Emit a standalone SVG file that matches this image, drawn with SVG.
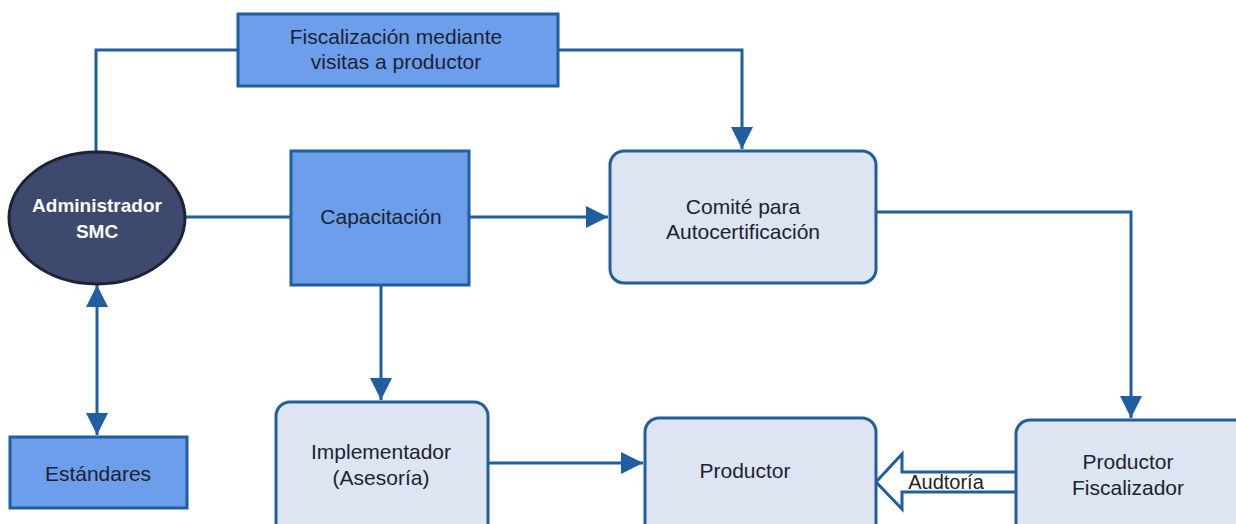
<svg xmlns="http://www.w3.org/2000/svg" width="1236" height="524" viewBox="0 0 1236 524">
<defs>
<marker id="ah" viewBox="0 0 10 10" refX="10" refY="5" markerWidth="22" markerHeight="22" markerUnits="userSpaceOnUse" orient="auto-start-reverse">
<path d="M0,0 L10,5 L0,10 z" fill="#1f5fa0"/>
</marker>
<style>
.blue{fill:#6d9eeb;stroke:#1f5fa0;stroke-width:3}
.light{fill:#dce5f1;stroke:#245d9a;stroke-width:3}
.ln{fill:none;stroke:#1f5fa0;stroke-width:3}
text{font-family:"Liberation Sans",Arial,sans-serif;font-size:21px;fill:#1c2330;text-anchor:middle}
.w{fill:#ffffff;font-weight:bold;font-size:19px}
</style>
</defs>
<rect width="1236" height="524" fill="#ffffff"/>
<g id="connectors">
<path class="ln" d="M96,152 V50 H238"/>
<path class="ln" d="M558,50 H742 V149" marker-end="url(#ah)"/>
<path class="ln" d="M185,217 H291"/>
<path class="ln" d="M469,217 H608" marker-end="url(#ah)"/>
<path class="ln" d="M876,212 H1131 V418" marker-end="url(#ah)"/>
<path class="ln" d="M381,285 V400" marker-end="url(#ah)"/>
<path class="ln" d="M488,463 H643" marker-end="url(#ah)"/>
<path class="ln" d="M97,285 V435" marker-start="url(#ah)" marker-end="url(#ah)"/>
<path d="M1016,472 H902 V454 L876,482 L902,509 V492 H1016" fill="#ffffff" stroke="#1f5fa0" stroke-width="3"/>
<text x="946" y="489" style="font-size:20px">Audtoría</text>
</g>
<g id="fiscalizacion">
<rect class="blue" x="238" y="14" width="320" height="72"/>
<text x="396" y="44">Fiscalización mediante</text>
<text x="396" y="69">visitas a productor</text>
</g>
<g id="administrador">
<ellipse cx="97" cy="218" rx="88" ry="66" fill="#3d4a6e" stroke="#1c2338" stroke-width="3"/>
<text class="w" x="97" y="212">Administrador</text>
<text class="w" x="97" y="238">SMC</text>
</g>
<g id="capacitacion">
<rect class="blue" x="291" y="151" width="178" height="134"/>
<text x="381" y="224">Capacitación</text>
</g>
<g id="comite">
<rect class="light" x="610" y="151" width="266" height="132" rx="14"/>
<text x="743" y="214">Comité para</text>
<text x="743" y="239">Autocertificación</text>
</g>
<g id="estandares">
<rect class="blue" x="10" y="437" width="177" height="71"/>
<text x="98" y="481">Estándares</text>
</g>
<g id="implementador">
<rect class="light" x="276" y="402" width="212" height="135" rx="14"/>
<text x="381" y="459">Implementador</text>
<text x="381" y="485">(Asesoría)</text>
</g>
<g id="productor">
<rect class="light" x="645" y="418" width="231" height="120" rx="14"/>
<text x="745" y="478">Productor</text>
</g>
<g id="productor-fiscalizador">
<rect class="light" x="1016" y="420" width="236" height="120" rx="14"/>
<text x="1128" y="469">Productor</text>
<text x="1128" y="495">Fiscalizador</text>
</g>
</svg>
